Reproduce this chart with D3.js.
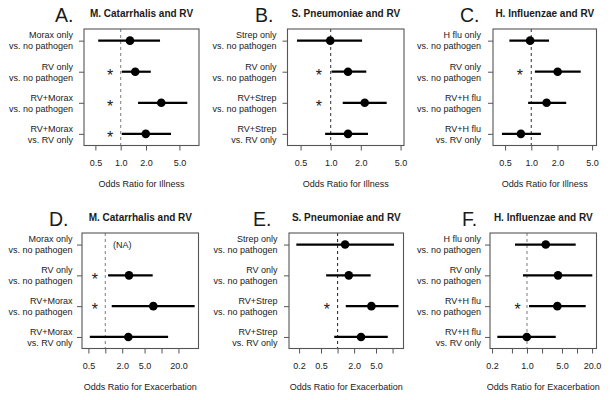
<!DOCTYPE html>
<html>
<head>
<meta charset="utf-8">
<script src="https://cdn.jsdelivr.net/npm/d3@7"></script>
<style>
  html, body { margin: 0; padding: 0; background: #fff; }
  svg { display: block; font-family: "Liberation Sans", Arial, sans-serif; }
</style>
</head>
<body>
<svg id="chart" width="610" height="400"></svg>
<script>
// ---------- data ----------
const rowsMorax = [["Morax only", "vs. no pathogen"], ["RV only", "vs. no pathogen"], ["RV+Morax", "vs. no pathogen"], ["RV+Morax", "vs. RV only"]];
const rowsStrep = [["Strep only", "vs. no pathogen"], ["RV only", "vs. no pathogen"], ["RV+Strep", "vs. no pathogen"], ["RV+Strep", "vs. RV only"]];
const rowsHflu  = [["H flu only", "vs. no pathogen"], ["RV only", "vs. no pathogen"], ["RV+H flu", "vs. no pathogen"], ["RV+H flu", "vs. RV only"]];

// Panel A: Illness, M. Catarrhalis
const orA = [1.29, 1.49, 3.04, 1.99];
const loA = [0.54, 1.03, 1.61, 1.03];
const hiA = [2.94, 2.28, 6.21, 3.97];
const sigA = [false, true, true, true];
// Panel B: Illness, S. Pneumoniae
const orB = [0.99, 1.49, 2.19, 1.49];
const loB = [0.46, 1.02, 1.32, 0.88];
const hiB = [2.06, 2.27, 3.63, 2.36];
const sigB = [false, true, true, false];
// Panel C: Illness, H. Influenzae
const orC = [0.97, 2.01, 1.50, 0.76];
const loC = [0.56, 1.10, 0.92, 0.46];
const hiC = [1.60, 3.70, 2.52, 1.29];
const sigC = [false, true, false, false];
// Panel D: Exacerbation, M. Catarrhalis (first row NA)
const orD = [null, 2.64, 7.15, 2.57];
const loD = [null, 1.12, 1.30, 0.53];
const hiD = [null, 6.97, 38.9, 13.1];
const sigD = [false, true, true, false];
// Panel E: Exacerbation, S. Pneumoniae
const orE = [1.37, 1.60, 4.12, 2.67];
const loE = [0.178, 0.62, 1.41, 0.87];
const hiE = [10.6, 4.0, 12.8, 8.17];
const sigE = [false, false, true, false];
// Panel F: Exacerbation, H. Influenzae
const orF = [2.37, 4.17, 4.04, 0.99];
const loF = [0.575, 0.83, 1.10, 0.255];
const hiF = [9.4, 20.2, 14.9, 3.75];
const sigF = [false, false, true, false];

// tick values and labels
const ticksIll = [0.5, 1, 2, 5];
const labelsIll = [0.5, 1, 2, 5];
const ticksD = [0.5, 1, 2, 5, 10, 20];
const labelsD = [0.5, 2, 5, 20];
const ticksE = [0.2, 0.5, 1, 2, 5, 10];
const labelsE = [0.2, 0.5, 2, 5];
const ticksF = [0.2, 0.5, 1, 2, 5, 10, 20];
const labelsF = [0.2, 1, 5, 20];

// ---------- layout ----------
const panels = [
  {letter: "A.", title: "M. Catarrhalis and RV", xlab: "Odds Ratio for Illness", rows: rowsMorax,
   or: orA, lo: loA, hi: hiA, sig: sigA, starX: 0.75, ticks: ticksIll, labels: labelsIll,
   box: [84, 29, 199, 145.5], domain: [0.366, 8.55], letterX: 55, refCol: "#888", labGap: 11},
  {letter: "B.", title: "S. Pneumoniae and RV", xlab: "Odds Ratio for Illness", rows: rowsStrep,
   or: orB, lo: loB, hi: hiB, sig: sigB, starX: 0.76, ticks: ticksIll, labels: labelsIll,
   box: [287.5, 29, 404, 145.5], domain: [0.37, 5.41], letterX: 255, refCol: "#444", labGap: 11},
  {letter: "C.", title: "H. Influenzae and RV", xlab: "Odds Ratio for Illness", rows: rowsHflu,
   or: orC, lo: loC, hi: hiC, sig: sigC, starX: 0.74, ticks: ticksIll, labels: labelsIll,
   box: [493, 29, 596.5, 145.5], domain: [0.363, 5.62], letterX: 460, refCol: "#444", labGap: 12},
  {letter: "D.", title: "M. Catarrhalis and RV", xlab: "Odds Ratio for Exacerbation", rows: rowsMorax,
   or: orD, lo: loD, hi: hiD, sig: sigD, starX: 0.65, ticks: ticksD, labels: labelsD,
   box: [82, 233, 198.5, 348.5], domain: [0.385, 45.5], letterX: 49, refCol: "#888", labGap: 9.5, naX: 2.0},
  {letter: "E.", title: "S. Pneumoniae and RV", xlab: "Odds Ratio for Exacerbation", rows: rowsStrep,
   or: orE, lo: loE, hi: hiE, sig: sigE, starX: 0.64, ticks: ticksE, labels: labelsE,
   box: [289, 233, 403.5, 348.5], domain: [0.131, 15.8], letterX: 253, refCol: "#333", labGap: 11.5},
  {letter: "F.", title: "H. Influenzae and RV", xlab: "Odds Ratio for Exacerbation", rows: rowsHflu,
   or: orF, lo: loF, hi: hiF, sig: sigF, starX: 0.65, ticks: ticksF, labels: labelsF,
   box: [490, 233, 596.5, 348.5], domain: [0.182, 24.5], letterX: 462, refCol: "#888", labGap: 9}
];

const svg = d3.select("#chart");
svg.append("rect").attr("width", 610).attr("height", 400).attr("fill", "#fff");
const txt = "#1a1a1a";

panels.forEach(p => {
  const [x0, y0, x1, y1] = p.box;
  const x = d3.scaleLog().domain(p.domain).range([x0, x1]);
  const y = d3.scaleLinear().domain([0.625, 4.375]).range([y0, y1]);
  const g = svg.append("g");
  const idx = [0, 1, 2, 3];

  // letter & title
  g.append("text").attr("x", p.letterX).attr("y", y0 - 7).attr("font-size", 19.5)
    .attr("fill", txt).text(p.letter);
  g.append("text").attr("x", (x0 + x1) / 2).attr("y", y0 - 12.3).attr("text-anchor", "middle")
    .attr("font-size", 10).attr("font-weight", "bold").attr("fill", txt).text(p.title);

  // reference line at OR = 1
  g.append("line").attr("x1", x(1)).attr("x2", x(1)).attr("y1", y0).attr("y2", y1)
    .attr("stroke", p.refCol).attr("stroke-width", 1.1).attr("stroke-dasharray", "3,3");

  // CI lines
  g.selectAll(".ci").data(idx.filter(i => p.or[i] != null)).enter().append("line")
    .attr("x1", i => x(p.lo[i])).attr("x2", i => x(p.hi[i]))
    .attr("y1", i => y(i + 1)).attr("y2", i => y(i + 1))
    .attr("stroke", "#000").attr("stroke-width", 2.2);
  // points
  g.selectAll(".pt").data(idx.filter(i => p.or[i] != null)).enter().append("circle")
    .attr("cx", i => x(p.or[i])).attr("cy", i => y(i + 1)).attr("r", 4.3).attr("fill", "#000");
  // significance stars
  g.selectAll(".star").data(idx.filter(i => p.sig[i])).enter().append("text")
    .attr("x", x(p.starX)).attr("y", i => y(i + 1) + 9.3).attr("text-anchor", "middle")
    .attr("font-size", 16).attr("fill", txt).text("*");
  // NA note
  if (p.naX) {
    g.append("text").attr("x", x(p.naX)).attr("y", y(1) + 3.2).attr("text-anchor", "middle")
      .attr("font-size", 9).attr("fill", txt).text("(NA)");
  }

  // box
  g.append("rect").attr("x", x0).attr("y", y0).attr("width", x1 - x0).attr("height", y1 - y0)
    .attr("fill", "none").attr("stroke", "#555").attr("stroke-width", 1.1);

  // x axis
  const labelSet = new Set(p.labels);
  const ax = g.append("g").attr("transform", `translate(0,${y1})`)
    .call(d3.axisBottom(x).tickValues(p.ticks).tickSize(5).tickPadding(9.6)
      .tickFormat(d => labelSet.has(d) ? d.toFixed(1) : ""));
  ax.select(".domain").remove();
  ax.selectAll("line").attr("stroke", "#555");
  ax.selectAll("text").attr("font-size", 9).attr("fill", txt).attr("font-family", null);
  g.append("text").attr("x", (x0 + x1) / 2).attr("y", y1 + 41.5).attr("text-anchor", "middle")
    .attr("font-size", 9).attr("fill", txt).text(p.xlab);

  // y axis ticks
  const ay = g.append("g").attr("transform", `translate(${x0},0)`)
    .call(d3.axisLeft(y).tickValues([1, 2, 3, 4]).tickSize(5).tickFormat(""));
  ay.select(".domain").remove();
  ay.selectAll("line").attr("stroke", "#555");

  // row labels
  const lab = g.selectAll(".rl").data(idx).enter().append("text")
    .attr("text-anchor", "end").attr("font-size", 9).attr("fill", txt);
  lab.append("tspan").attr("x", x0 - p.labGap).attr("y", i => y(i + 1) - 2.2).text(i => p.rows[i][0]);
  lab.append("tspan").attr("x", x0 - p.labGap).attr("y", i => y(i + 1) + 8.8).text(i => p.rows[i][1]);
});
</script>
</body>
</html>
